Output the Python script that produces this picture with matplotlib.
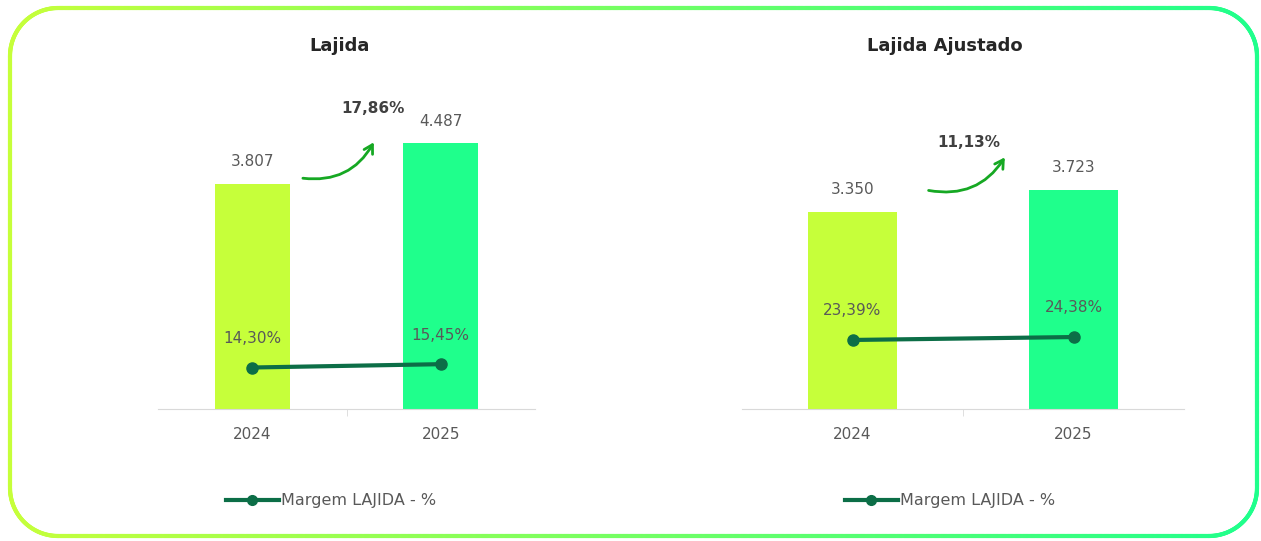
import numpy as np
import matplotlib
matplotlib.use("Agg")
import matplotlib.pyplot as plt
from matplotlib.collections import LineCollection
from matplotlib.colors import LinearSegmentedColormap
from matplotlib.lines import Line2D

plt.rcParams['font.family'] = ['DejaVu Sans']

years = ['2024', '2025']
lajida = [3807, 4487]
lajida_margin = [14.30, 15.45]
ajustado = [3350, 3723]
ajustado_margin = [23.39, 24.38]
growth = ['17,86%', '11,13%']
titles = ['Lajida', 'Lajida Ajustado']
legend_label = 'Margem LAJIDA - %'

LIME = '#c6ff3a'
GREEN = '#1fff8c'
LINE = '#0c6e47'
GRAY = '#595959'

W, H = 1261, 541
fig = plt.figure(figsize=(W / 100, H / 100), dpi=100)

# gradient rounded border
bg = fig.add_axes([0, 0, 1, 1], zorder=-1)
bg.set_xlim(0, W)
bg.set_ylim(0, H)
bg.axis('off')
x0, x1, y0, y1, r = 10, 1257, 5, 533, 48
corners = [((x1 - r, y1 - r), 0, 90), ((x0 + r, y1 - r), 90, 180),
           ((x0 + r, y0 + r), 180, 270), ((x1 - r, y0 + r), 270, 360)]
pts = []
for (cx, cy), a0, a1 in corners:
    t = np.radians(np.linspace(a0, a1, 30))
    pts.append(np.c_[cx + r * np.cos(t), cy + r * np.sin(t)])
pts = np.vstack(pts + [pts[0][:1]])
d = np.r_[0, np.cumsum(np.hypot(*np.diff(pts, axis=0).T))]
s = np.linspace(0, d[-1], 3000)
xs = np.interp(s, d, pts[:, 0])
ys = np.interp(s, d, pts[:, 1])
segs = np.stack([np.c_[xs[:-1], ys[:-1]], np.c_[xs[1:], ys[1:]]], axis=1)
cmap = LinearSegmentedColormap.from_list('border', [LIME, GREEN])
colors = cmap((segs[:, :, 0].mean(1) - x0) / (x1 - x0))
bg.add_collection(LineCollection(segs, colors=colors, linewidth=3, capstyle='round'))


def panel(left, width, vals, margins, title, title_x, ymax, y2max, bw, pct, pct_xy, arr_from, arr_to, leg_x):
    ax = fig.add_axes([left / W, (H - 409) / H, width / W, 309 / H])
    ax.bar([0, 1], vals, width=bw, color=[LIME, GREEN])
    ax.set_xlim(-0.5, 1.5)
    ax.set_ylim(0, ymax)
    for sp in ['top', 'right', 'left']:
        ax.spines[sp].set_visible(False)
    ax.spines['bottom'].set_color('#d9d9d9')
    ax.set_yticks([])
    ax.set_xticks([0, 1])
    ax.set_xticklabels(years, color=GRAY, fontsize=11)
    ax.tick_params(axis='x', length=0, pad=13)
    ax.set_xticks([0.5], minor=True)
    ax.tick_params(axis='x', which='minor', length=5, color='#d9d9d9')
    for i, v in enumerate(vals):
        ax.annotate(f'{v:,}'.replace(',', '.'), (i, v), xytext=(0, 16), textcoords='offset points',
                    ha='center', va='center', color=GRAY, fontsize=11)

    ax2 = ax.twinx()
    ax2.set_ylim(0, y2max)
    ax2.axis('off')
    ax2.plot([0, 1], margins, color=LINE, lw=3, marker='o', ms=8)
    for i, m in enumerate(margins):
        ax2.annotate(f'{m:.2f}%'.replace('.', ','), (i, m), xytext=(0, 21), textcoords='offset points',
                     ha='center', va='center', color=GRAY, fontsize=11)

    fig.text(title_x / W, 1 - 46 / H, title, ha='center', va='center',
             fontsize=13, fontweight='bold', color='#262626')
    ax.text(pct_xy[0], pct_xy[1], pct, transform=ax.transAxes, ha='center', va='center',
            fontsize=11, fontweight='bold', color='#404040')
    ax.annotate('', xy=arr_to, xytext=arr_from, xycoords='axes fraction', textcoords='axes fraction',
                arrowprops=dict(arrowstyle='->,head_length=0.6,head_width=0.35', color='#16a823', lw=2,
                                connectionstyle='arc3,rad=0.35'))
    h = Line2D([], [], color=LINE, lw=3, marker='o', ms=7)
    fig.legend([h], [legend_label], loc='center', bbox_to_anchor=(leg_x / W, 1 - 501 / H),
               frameon=False, handlelength=3.3, handletextpad=0.15, fontsize=11.5, labelcolor=GRAY)


panel(158, 377, lajida, lajida_margin, titles[0], 340, 5220, 106.5, 0.40, growth[0],
      (0.570, 0.974), (0.377, 0.748), (0.576, 0.871), 331)
panel(742, 442, ajustado, ajustado_margin, titles[1], 945, 5255, 104.7, 0.405, growth[1],
      (0.514, 0.864), (0.416, 0.709), (0.598, 0.822), 950)

fig.savefig('out.png', dpi=100)
